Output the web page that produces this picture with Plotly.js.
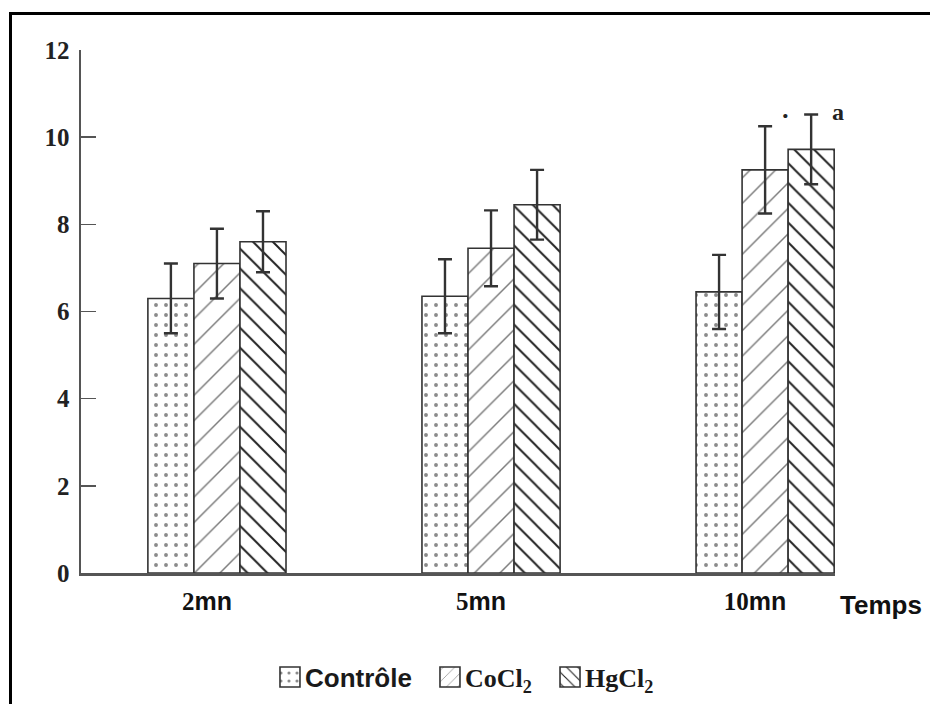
<!DOCTYPE html>
<html>
<head>
<meta charset="utf-8">
<script src="https://cdn.plot.ly/plotly-3.0.1.min.js"></script>
<style>
  html, body { margin: 0; padding: 0; background: #fff; }
  #frame { position: absolute; left: 9px; top: 12px; width: 921px; height: 692px;
           border-top: 3px solid #000; border-left: 3px solid #000; box-sizing: border-box; pointer-events: none; }
  #chart { position: absolute; left: 0; top: 0; width: 930px; height: 704px; }
</style>
</head>
<body>
<div id="chart"></div>
<div id="frame"></div>
<script>
// ---- data ----
const categories = ["2mn", "5mn", "10mn"];
const tickNumbers = ["2", "5", "10"];
const seriesNames = ["Contrôle", "CoCl<sub>2</sub>", "HgCl<sub>2</sub>"];
const controle = [6.3, 6.35, 6.45];
const controleErr = [0.8, 0.85, 0.85];
const cocl2 = [7.1, 7.45, 9.25];
const cocl2Err = [0.8, 0.87, 1.0];
const hgcl2 = [7.6, 8.45, 9.72];
const hgcl2Err = [0.7, 0.8, 0.8];
const yTicks = [0, 2, 4, 6, 8, 10, 12];

const serif = "'Liberation Serif', 'DejaVu Serif', serif";
const sans = "'Liberation Sans', Arial, sans-serif";

const xIdx = categories.map((c, i) => i);
const tickText = tickNumbers.map(n => "<span style=\"font-family:Liberation Serif\">" + n + "</span>mn");

function trace(label, legendId, y, err, shape, fg, size, solidity) {
  return {
    type: "bar",
    name: label,
    legend: legendId,
    x: xIdx,
    y: y,
    marker: {
      color: "#ffffff",
      line: { color: "#333333", width: 1.6 },
      pattern: { shape: shape, fgcolor: fg, bgcolor: "#ffffff", size: size, solidity: solidity, fillmode: "replace" }
    },
    error_y: { type: "data", array: err, visible: true, color: "#333333", thickness: 2.4, width: 7 },
    hoverinfo: "skip"
  };
}

const data = [
  trace(seriesNames[0], "legend", controle, controleErr, ".", "#8a8a8a", 10, 0.12),
  trace(seriesNames[1], "legend2", cocl2, cocl2Err, "/", "#7a7a7a", 18, 0.08),
  trace(seriesNames[2], "legend3", hgcl2, hgcl2Err, "\\", "#222222", 14, 0.14)
];

function legendAt(x, family, size) {
  return {
    orientation: "h", x: x, xanchor: "left", y: -0.199, yanchor: "middle",
    font: { family: family, size: size, color: "#1a1a1a", weight: "bold" },
    bgcolor: "rgba(0,0,0,0)", borderwidth: 0
  };
}

const layout = {
  width: 930, height: 704,
  paper_bgcolor: "#ffffff", plot_bgcolor: "#ffffff",
  margin: { l: 81, r: 95, t: 50, b: 131, autoexpand: false },
  barmode: "group",
  bargap: 0.496,
  bargroupgap: 0,
  showlegend: true,
  legend: legendAt(0.244, sans, 26),
  legend2: legendAt(0.4562, serif, 26),
  legend3: legendAt(0.6154, serif, 26),
  xaxis: {
    range: [-0.496, 2.255],
    tickmode: "array", tickvals: xIdx, ticktext: tickText,
    ticks: "", showgrid: false, zeroline: false,
    showline: true, linecolor: "#555", linewidth: 2.5,
    tickfont: { family: sans, size: 25, color: "#111", weight: "bold" },
    ticklabelshift: -10, ticklabelstandoff: 4
  },
  yaxis: {
    range: [0, 12],
    tickmode: "array", tickvals: yTicks, ticktext: yTicks.map(String),
    ticks: "inside", ticklen: 15, tickwidth: 1.5, tickcolor: "#555",
    showgrid: false, zeroline: false,
    showline: true, linecolor: "#555", linewidth: 2.5,
    tickfont: { family: serif, size: 25, color: "#222", weight: "bold" },
    ticklabelstandoff: 4
  },
  annotations: [
    { xref: "paper", yref: "paper", x: 1.004, y: -0.061, xanchor: "left", yanchor: "middle",
      text: "Temps", showarrow: false, font: { family: sans, size: 26, color: "#111", weight: "bold" } },
    { xref: "paper", yref: "y", x: 1.004, y: 10.58, xanchor: "center", yanchor: "middle",
      text: "a", showarrow: false, font: { family: serif, size: 24, color: "#222", weight: "bold" } },
    { xref: "x", yref: "y", x: 2.073, y: 10.5, xanchor: "center", yanchor: "middle",
      text: "·", showarrow: false, font: { family: serif, size: 26, color: "#222", weight: "bold" } }
  ]
};

Plotly.newPlot("chart", data, layout, { displayModeBar: false, staticPlot: true }).then(function (gd) {
  // enlarge legend swatches (without scaling their fill pattern)
  gd.querySelectorAll(".legendpoints path").forEach(function (p) {
    p.setAttribute("d", "M15,10H-5V-10H15Z");
  });
});
</script>
</body>
</html>
